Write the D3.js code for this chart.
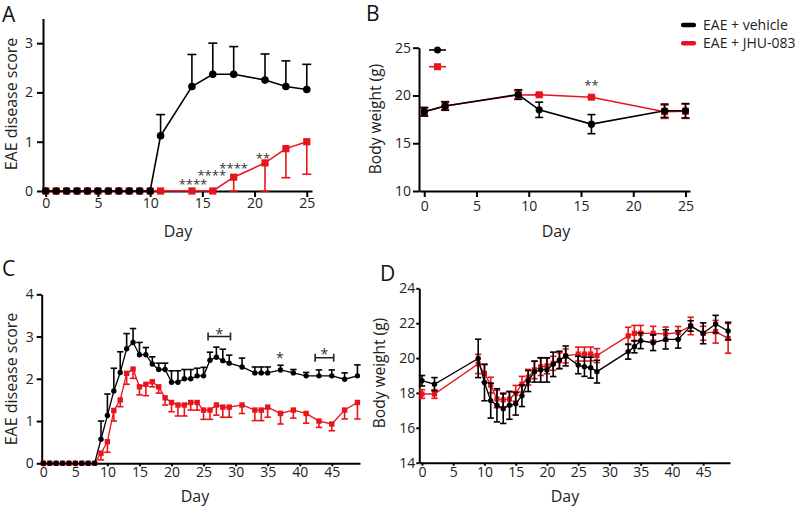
<!DOCTYPE html>
<html><head><meta charset="utf-8">
<script src="https://cdn.jsdelivr.net/npm/d3@7"></script>
<style>body{margin:0;background:#fff;} text{font-family:"Open Sans",sans-serif;}</style>
</head><body><svg id="c" width="799" height="507"></svg>
<script>
// ---------------- DATA ----------------
const legendLabels = ["EAE + vehicle", "EAE + JHU-083"];
// Panel A – disease score (vehicle: SEM up, JHU: SEM down)
const daysA_veh = [0,1,2,3,4,5,6,7,8,9,10,11,14,16,18,21,23,25];
const scoreA_veh = [0,0,0,0,0,0,0,0,0,0,0,1.12,2.12,2.37,2.37,2.25,2.12,2.06];
const errA_veh = [0,0,0,0,0,0,0,0,0,0,0,0.43,0.65,0.63,0.56,0.53,0.52,0.51];
const daysA_jhu = [0,1,2,3,4,5,6,7,8,9,10,11,14,16,18,21,23,25];
const scoreA_jhu = [0,0,0,0,0,0,0,0,0,0,0,0,0,0,0.28,0.57,0.86,1.0];
const errA_jhu = [0,0,0,0,0,0,0,0,0,0,0,0,0,0,0.28,0.57,0.59,0.66];
const starsA = [{day:14.1,val:0.19,t:"****"},{day:15.9,val:0.37,t:"****"},{day:18.0,val:0.51,t:"****"},{day:20.8,val:0.71,t:"**"}];
const ticksA_x = [0,5,10,15,20,25];
const ticksA_y = [0,1,2,3];

// Panel B – body weight
const daysB = [0,2,9,11,16,23,25];
const weightB_veh = [18.3,18.9,20.1,18.5,17.0,18.4,18.4];
const errB_veh = [0.45,0.45,0.5,0.8,1.0,0.7,0.75];
const weightB_jhu = [18.3,18.9,20.05,20.07,19.82,18.3,18.35];
const errB_jhu = [0.4,0.4,0.45,0.1,0.1,0.7,0.75];
const starsB = [{day:16,val:21.3,t:"**"}];
const ticksB_x = [0,5,10,15,20,25];
const ticksB_y = [10,15,20,25];

// Panel C – disease score, long course
const daysC_veh = [0,1,2,3,4,5,6,7,8,9,10,11,12,13,14,15,16,17,18,19,20,21,22,23,24,25,26,27,28,29,31,33,34,35,37,39,41,43,45,47,49];
const scoreC_veh = [0,0,0,0,0,0,0,0,0,0.57,1.13,1.71,2.15,2.71,2.86,2.57,2.57,2.35,2.22,2.22,1.92,1.92,2.0,2.0,2.07,2.07,2.44,2.51,2.43,2.37,2.28,2.14,2.14,2.14,2.21,2.14,2.07,2.07,2.07,1.99,2.07];
const errC_veh = [0,0,0,0,0,0,0,0,0,0.43,0.51,0.54,0.49,0.36,0.33,0.29,0.17,0.17,0.15,0.15,0.27,0.27,0.22,0.22,0.18,0.2,0.19,0.24,0.27,0.19,0.21,0.14,0.14,0.14,0.11,0.08,0.08,0.14,0.14,0.15,0.26];
const daysC_jhu = [0,1,2,3,4,5,6,7,8,9,10,11,12,13,14,15,16,17,18,19,20,21,22,23,24,25,26,27,28,29,31,33,34,35,37,39,41,43,45,47,49];
const scoreC_jhu = [0,0,0,0,0,0,0,0,0,0.24,0.51,1.25,1.5,2.13,2.23,1.81,1.87,1.93,1.81,1.55,1.44,1.38,1.38,1.44,1.44,1.26,1.26,1.38,1.33,1.33,1.38,1.26,1.26,1.33,1.18,1.26,1.18,1.0,0.93,1.26,1.44];
const errC_jhu = [0,0,0,0,0,0,0,0,0,0.16,0.25,0.25,0.16,0.26,0.22,0.19,0.27,0.12,0.15,0.17,0.22,0.26,0.26,0.18,0.18,0.22,0.22,0.24,0.24,0.24,0.2,0.25,0.25,0.24,0.25,0.19,0.23,0.15,0.16,0.21,0.39];
const bracketsC = [{from:25.7,to:29.2,val:3.0},{from:42.4,to:45.3,val:2.5}];
const starsC = [{day:27.45,val:3.13,t:"*"},{day:36.9,val:2.55,t:"*"},{day:43.85,val:2.66,t:"*"}];
const ticksC_x = [0,5,10,15,20,25,30,35,40,45];
const ticksC_y = [0,1,2,3,4];

// Panel D – body weight, long course
const daysD = [0,2,9,10,11,12,13,14,15,16,17,18,19,20,21,22,23,25,26,27,28,33,34,35,37,39,41,43,45,47,49];
const weightD_veh = [18.7,18.5,19.98,18.6,17.56,17.29,17.1,17.29,17.38,17.84,18.68,19.22,19.32,19.32,19.64,19.89,20.12,19.6,19.5,19.45,19.22,20.37,20.65,20.99,20.88,21.07,21.07,21.84,21.42,21.95,21.55];
const errD_veh = [0.3,0.38,1.1,1.05,1.0,0.95,0.85,0.8,0.65,0.62,0.6,0.6,0.7,0.7,0.7,0.5,0.57,0.5,0.55,0.6,0.65,0.43,0.35,0.45,0.45,0.55,0.5,0.3,0.6,0.5,0.5];
const weightD_jhu = [17.94,17.94,19.66,19.12,18.45,17.65,17.6,17.65,17.98,18.5,18.9,19.32,19.5,19.55,19.7,19.85,20.12,20.23,20.23,20.23,20.14,21.27,21.42,21.42,21.42,21.38,21.46,21.84,21.42,21.51,21.13];
const errD_jhu = [0.25,0.25,0.55,0.5,0.45,0.5,0.4,0.4,0.45,0.45,0.45,0.5,0.5,0.45,0.4,0.45,0.4,0.4,0.4,0.4,0.4,0.5,0.45,0.45,0.4,0.4,0.35,0.5,0.4,0.65,0.85];
const ticksD_x = [0,5,10,15,20,25,30,35,40,45];
const ticksD_y = [14,16,18,20,22,24];

// ---------------- DRAW ----------------
const RED = "#e8141c", BLK = "#000";
const svg = d3.select("#c");
const fmt = d3.format("d");

function panel(cfg){
  const g = svg.append("g");
  const x = d3.scaleLinear().domain(cfg.xd).range(cfg.xr);
  const y = d3.scaleLinear().domain(cfg.yd).range(cfg.yr);
  const ax = g.append("g").attr("transform",`translate(0,${cfg.yr[0]})`)
    .call(d3.axisBottom(x).tickValues(cfg.xt).tickFormat(fmt).tickSizeInner(cfg.xts).tickSizeOuter(0).tickPadding(cfg.xtp));
  const ay = g.append("g").attr("transform",`translate(${cfg.xr[0]},0)`)
    .call(d3.axisLeft(y).tickValues(cfg.yt).tickFormat(fmt).tickSizeInner(cfg.yts).tickSizeOuter(0).tickPadding(cfg.ytp));
  [ax,ay].forEach(a=>{
    a.select(".domain").attr("stroke","#000").attr("stroke-width",2);
    a.selectAll(".tick line").attr("stroke","#000").attr("stroke-width",2);
    a.selectAll(".tick text").attr("font-size",14).attr("fill","#222").attr("font-family","Open Sans");
  });
  g.append("text").attr("x",cfg.xlab[0]).attr("y",cfg.xlab[1]).attr("text-anchor","middle")
    .attr("font-size",16).attr("fill","#222").text("Day");
  g.append("text").attr("transform",`translate(${cfg.ylab[0]},${cfg.ylab[1]}) rotate(-90)`)
    .attr("text-anchor","middle").attr("font-size",cfg.ylabSize).attr("fill","#222").text(cfg.ylabText);
  g.append("text").attr("x",cfg.letter[0]).attr("y",cfg.letter[1]).attr("font-size",21).attr("fill","#111").text(cfg.letterText);
  return {g,x,y};
}

function series(p, days, vals, up, down, color, shape, sz, cap, lw){
  const {g,x,y} = p;
  const s = g.append("g");
  const line = d3.line().x((d,i)=>x(days[i])).y(d=>y(d));
  s.append("path").datum(vals).attr("d",line).attr("fill","none").attr("stroke",color).attr("stroke-width",lw);
  vals.forEach((v,i)=>{
    const cx = x(days[i]);
    const ends = [];
    if(up && up[i]>0) ends.push(v+up[i]);
    if(down && down[i]>0) ends.push(v-down[i]);
    ends.forEach(e=>{
      s.append("line").attr("x1",cx).attr("x2",cx).attr("y1",y(v)).attr("y2",y(e)).attr("stroke",color).attr("stroke-width",1.6);
      s.append("line").attr("x1",cx-cap).attr("x2",cx+cap).attr("y1",y(e)).attr("y2",y(e)).attr("stroke",color).attr("stroke-width",1.6);
    });
  });
  vals.forEach((v,i)=>{
    const cx = x(days[i]), cy = y(v);
    if(shape==="circle") s.append("circle").attr("cx",cx).attr("cy",cy).attr("r",sz).attr("fill",color);
    else s.append("rect").attr("x",cx-sz).attr("y",cy-sz).attr("width",2*sz).attr("height",2*sz).attr("fill",color);
  });
}

function stars(p, list, size){
  list.forEach(st=>{
    p.g.append("text").attr("x",p.x(st.day)).attr("y",p.y(st.val)+size*0.55).attr("text-anchor","middle")
      .attr("font-size",size).attr("fill","#333").text(st.t);
  });
}

// Panel A
const pA = panel({xd:[-0.26,25.5], xr:[43,312], yd:[0,3.5], yr:[191,18.5], xt:ticksA_x, yt:ticksA_y,
  xts:6, xtp:1, yts:6, ytp:4, xlab:[178,237], ylab:[17,104], ylabSize:16, ylabText:"EAE disease score", letter:[2,22], letterText:"A"});
series(pA, daysA_jhu, scoreA_jhu, null, errA_jhu, RED, "square", 3.6, 4.5, 1.6);
series(pA, daysA_veh, scoreA_veh, errA_veh, null, BLK, "circle", 3.8, 4.5, 1.6);
stars(pA, starsA, 13);

// Panel B
const pB = panel({xd:[-0.5,25.43], xr:[419,690], yd:[10,25], yr:[191,47.7], xt:ticksB_x, yt:ticksB_y,
  xts:6, xtp:4, yts:6, ytp:2, xlab:[556,237], ylab:[381,119], ylabSize:15.5, ylabText:"Body weight (g)", letter:[366,21], letterText:"B"});
series(pB, daysB, weightB_jhu, errB_jhu, errB_jhu, RED, "square", 3.5, 4, 1.6);
series(pB, daysB, weightB_veh, errB_veh, errB_veh, BLK, "circle", 3.6, 4, 1.6);
stars(pB, starsB, 13);
// in-plot key
[[BLK,"circle",50],[RED,"square",66.7]].forEach(([c,sh,yy])=>{
  pB.g.append("line").attr("x1",429).attr("x2",446).attr("y1",yy).attr("y2",yy).attr("stroke",c).attr("stroke-width",1.6);
  if(sh==="circle") pB.g.append("circle").attr("cx",437.5).attr("cy",yy).attr("r",3.5).attr("fill",c);
  else pB.g.append("rect").attr("x",434).attr("y",yy-3.5).attr("width",7).attr("height",7).attr("fill",c);
});

// Legend
legendLabels.forEach((lab,i)=>{
  const yy = 25 + i*18.3;
  svg.append("rect").attr("x",681).attr("y",yy-2.2).attr("width",15).attr("height",4.4).attr("rx",2).attr("fill",i?RED:BLK);
  svg.append("text").attr("x",703).attr("y",yy+5).attr("font-size",14).attr("fill","#222").text(lab);
});

// Panel C
const pC = panel({xd:[-0.25,49.4], xr:[41.7,360], yd:[0,4], yr:[463.3,294.3], xt:ticksC_x, yt:ticksC_y,
  xts:3, xtp:1, yts:5, ytp:3, xlab:[195,502], ylab:[17,379], ylabSize:16, ylabText:"EAE disease score", letter:[2,276], letterText:"C"});
series(pC, daysC_jhu, scoreC_jhu, null, errC_jhu, RED, "square", 2.7, 3.2, 1.3);
series(pC, daysC_veh, scoreC_veh, errC_veh, null, BLK, "circle", 2.7, 3.2, 1.3);
bracketsC.forEach(b=>{
  const x1=pC.x(b.from), x2=pC.x(b.to), yy=pC.y(b.val);
  pC.g.append("path").attr("d",`M${x1},${yy-4}V${yy+4}M${x1},${yy}H${x2}M${x2},${yy-4}V${yy+4}`)
    .attr("fill","none").attr("stroke","#222").attr("stroke-width",1.6);
});
stars(pC, starsC, 14);

// Panel D
const pD = panel({xd:[-0.43,49.3], xr:[419.3,730], yd:[14,24], yr:[462.7,288.3], xt:ticksD_x, yt:ticksD_y,
  xts:3, xtp:1, yts:3, ytp:1, xlab:[565,502], ylab:[385,373], ylabSize:15.5, ylabText:"Body weight (g)", letter:[380,281], letterText:"D"});
series(pD, daysD, weightD_jhu, errD_jhu, errD_jhu, RED, "square", 2.6, 3.2, 1.3);
series(pD, daysD, weightD_veh, errD_veh, errD_veh, BLK, "circle", 2.7, 3.2, 1.3);
</script></body></html>
